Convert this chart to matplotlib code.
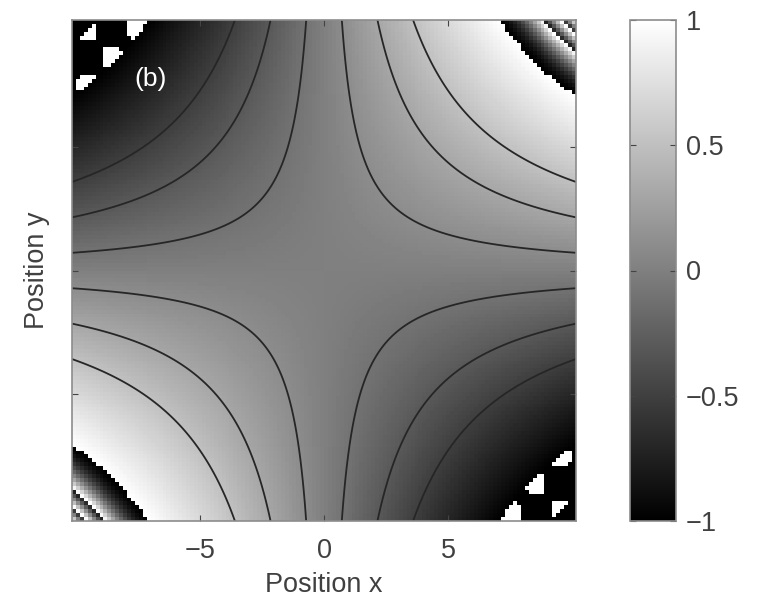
import matplotlib.pyplot as plt
import numpy as np

plt.rcParams['font.family'] = ['Liberation Sans', 'DejaVu Sans']

# grid of positions and phase slope of the field
x_lim = 10.16
n_cells = 128
phase_slope = 0.0137
contour_levels = [-0.5, -0.3, -0.1, 0.1, 0.3, 0.5]
x_ticks = [-5, 0, 5]
y_ticks = [-5, 0, 5]
cbar_ticks = [-1, -0.5, 0, 0.5, 1]
cbar_labels = ['\u22121', '\u22120.5', '0', '0.5', '1']
x_ticklabels = ['\u22125', '0', '5']

centers = np.linspace(-x_lim, x_lim, n_cells)
X, Y = np.meshgrid(centers, centers)
raw = phase_slope * X * Y

# corners: faster phase beyond the first wrap on the positive side,
# saturated with speckles on the negative side
field = raw.copy()
pos = raw > 1
field[pos] = raw[pos] + 30.0 * (raw[pos] - 1) ** 2
field = ((field + 1) % 2) - 1
neg = raw < -1
speck = (np.sin(3.1 * X) * np.sin(2.7 * Y) > 0.3) & (raw > -1.3)
field[neg] = -1.0
field[neg & speck] = 1.0

fig = plt.figure(figsize=(7.58, 6.11), dpi=100)
ax = fig.add_axes([72 / 758, 90 / 611, 504 / 758, 501 / 611])
cax = fig.add_axes([630 / 758, 90 / 611, 46 / 758, 501 / 611])

im = ax.imshow(field, cmap='gray', vmin=-1, vmax=1, origin='lower',
               extent=[-x_lim, x_lim, -x_lim, x_lim], aspect='auto',
               interpolation='nearest')

fine = np.linspace(-x_lim, x_lim, 400)
FX, FY = np.meshgrid(fine, fine)
ax.contour(FX, FY, phase_slope * FX * FY, levels=contour_levels,
           colors='#262626', linewidths=1.3, linestyles='solid')

ax.text(-7.0, 7.75, '(b)', color='white', fontsize=19,
        ha='center', va='center')

edge = '#8c8c8c'
text_col = '#404040'
for a in (ax, cax):
    for s in a.spines.values():
        s.set_color(edge)
        s.set_linewidth(1.2)

ax.set_xlim(-x_lim, x_lim)
ax.set_ylim(-x_lim, x_lim)
ax.set_xticks(x_ticks)
ax.set_xticklabels(x_ticklabels)
ax.set_yticks(y_ticks)
ax.set_yticklabels([])
ax.tick_params(direction='in', top=True, right=True, length=4,
               color='#444444', labelsize=19.5, labelcolor=text_col, pad=12)
ax.set_xlabel('Position x', fontsize=19.5, color=text_col, labelpad=6)
ax.set_ylabel('Position y', fontsize=19.5, color=text_col, labelpad=4)

cb = fig.colorbar(im, cax=cax, ticks=cbar_ticks)
cb.outline.set_edgecolor(edge)
cb.outline.set_linewidth(1.2)
cax.set_yticklabels(cbar_labels)
cax.tick_params(direction='in', left=True, right=True, length=4,
                color='#444444', labelsize=19.5, labelcolor=text_col, pad=7)

fig.savefig('out.png', dpi=100)
